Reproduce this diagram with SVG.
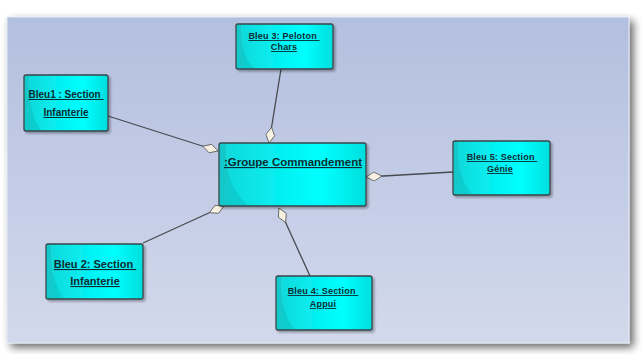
<svg xmlns="http://www.w3.org/2000/svg" width="643" height="354" viewBox="0 0 643 354">
  <defs>
    <linearGradient id="panelFill" x1="0" y1="0" x2="0" y2="1">
      <stop offset="0" stop-color="#b3bfdf"/>
      <stop offset="1" stop-color="#d2d9ec"/>
    </linearGradient>
    <linearGradient id="nodeFill" x1="0" y1="0" x2="1" y2="0">
      <stop offset="0" stop-color="#14d6d8"/>
      <stop offset="0.45" stop-color="#04f2f4"/>
      <stop offset="0.7" stop-color="#00ffff"/>
      <stop offset="1" stop-color="#00dede"/>
    </linearGradient>
    <filter id="panelShadow" x="-5%" y="-5%" width="112%" height="115%">
      <feGaussianBlur in="SourceAlpha" stdDeviation="4"/>
      <feOffset dx="4" dy="4"/>
      <feComponentTransfer><feFuncA type="linear" slope="0.6"/></feComponentTransfer>
      <feMerge><feMergeNode/><feMergeNode in="SourceGraphic"/></feMerge>
    </filter>
    <filter id="nodeShadow" x="-10%" y="-10%" width="125%" height="130%">
      <feGaussianBlur in="SourceAlpha" stdDeviation="1"/>
      <feOffset dx="1.5" dy="1.5"/>
      <feComponentTransfer><feFuncA type="linear" slope="0.3"/></feComponentTransfer>
      <feMerge><feMergeNode/><feMergeNode in="SourceGraphic"/></feMerge>
    </filter>
    <marker id="aggregation" markerUnits="userSpaceOnUse" markerWidth="20" markerHeight="12" refX="0" refY="5" orient="auto" viewBox="0 0 20 10">
      <path d="M0,5 L8,0.6 L16,5 L8,9.4 Z" fill="#f6f1e1" stroke="#5a5a5a" stroke-width="0.8"/>
    </marker>
  </defs>
  <style>
    .box { fill: url(#nodeFill); stroke: #3a4448; stroke-width: 1.3; filter: url(#nodeShadow); }
    .swoosh { fill: #000; opacity: 0.07; }
    .lbl { font-family: "Liberation Sans", Arial, sans-serif; font-weight: bold; fill: #0b2c32; text-anchor: middle; text-decoration: underline; white-space: pre; }
    .small { font-size: 9px; letter-spacing: 0.2px; }
    .link { stroke: #474b4f; stroke-width: 1.3; fill: none; marker-start: url(#aggregation); }
  </style>

  <!-- page background and panel -->
  <rect x="0" y="0" width="643" height="354" fill="#ffffff"/>
  <rect x="7" y="17" width="622" height="326" fill="url(#panelFill)" stroke="#e6eaf6" stroke-width="1" filter="url(#panelShadow)"/>

  <!-- connectors: aggregation diamonds sit on the command group -->
  <g id="connectors">
    <path class="link" d="M218,151 L108,116"/>
    <path class="link" d="M269,143 L281,69"/>
    <path class="link" d="M366,177 L453,172"/>
    <path class="link" d="M224,206 L143,243"/>
    <path class="link" d="M279,208 L310,276"/>
  </g>

  <g id="groupe-commandement">
    <rect class="box" x="219" y="143" width="147" height="63" rx="2"/>
    <path class="swoosh" d="M220,144 L226,144 Q224,185 248,205 L220,205 Z"/>
    <text class="lbl" x="293" y="166" font-size="11.5">:Groupe Commandement</text>
  </g>

  <g id="bleu1">
    <rect class="box" x="24" y="75" width="84" height="56" rx="2"/>
    <path class="swoosh" d="M25,76 L29,76 Q28,112 41,130 L25,130 Z"/>
    <text class="lbl" x="66" y="98" font-size="10">Bleu1 : Section </text>
    <text class="lbl" x="66" y="116" font-size="10">Infanterie</text>
  </g>

  <g id="bleu3">
    <rect class="box" x="236" y="24" width="97" height="45" rx="2"/>
    <path class="swoosh" d="M237,25 L241,25 Q240,55 254,68 L237,68 Z"/>
    <text class="lbl small" x="284" y="39">Bleu 3: Peloton </text>
    <text class="lbl small" x="284" y="50">Chars</text>
  </g>

  <g id="bleu5">
    <rect class="box" x="453" y="141" width="97" height="54" rx="2"/>
    <path class="swoosh" d="M454,142 L458,142 Q457,178 472,194 L454,194 Z"/>
    <text class="lbl small" x="502" y="160">Bleu 5: Section </text>
    <text class="lbl small" x="500" y="172">Génie</text>
  </g>

  <g id="bleu2">
    <rect class="box" x="46" y="244" width="97" height="55" rx="2"/>
    <path class="swoosh" d="M47,245 L51,245 Q50,282 64,298 L47,298 Z"/>
    <text class="lbl" x="95" y="268" font-size="11">Bleu 2: Section </text>
    <text class="lbl" x="95" y="285" font-size="11">Infanterie</text>
  </g>

  <g id="bleu4">
    <rect class="box" x="276" y="276" width="96" height="54" rx="2"/>
    <path class="swoosh" d="M277,277 L281,277 Q280,313 295,329 L277,329 Z"/>
    <text class="lbl small" x="323" y="294">Bleu 4: Section </text>
    <text class="lbl small" x="323" y="307">Appui</text>
  </g>
</svg>
